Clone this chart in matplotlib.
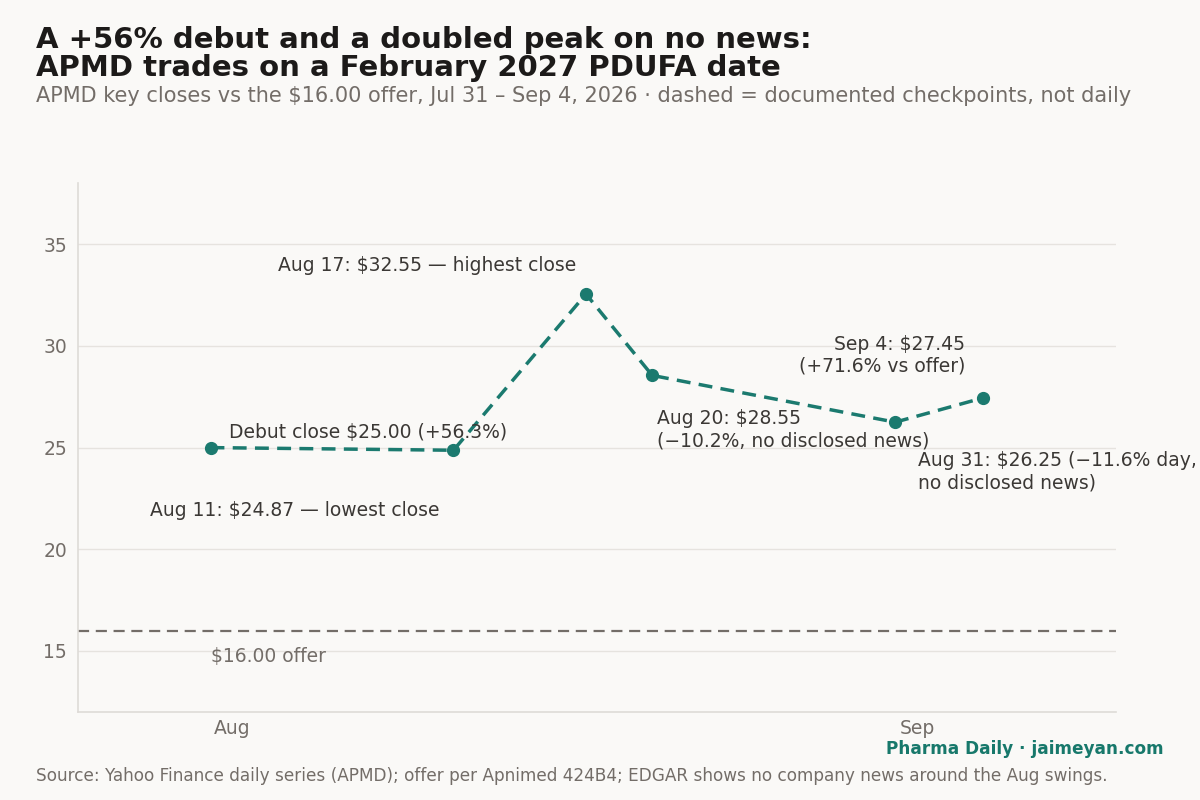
import datetime as dt
import matplotlib
matplotlib.use("Agg")
import matplotlib.pyplot as plt
import matplotlib.dates as mdates

plt.rcParams["font.family"] = ["DejaVu Sans"]

# key closes (documented checkpoints)
dates = [dt.date(2026, 7, 31), dt.date(2026, 8, 11), dt.date(2026, 8, 17),
         dt.date(2026, 8, 20), dt.date(2026, 8, 31), dt.date(2026, 9, 4)]
closes = [25.00, 24.87, 32.55, 28.55, 26.25, 27.45]
offer = 16.00

labels = [
    "Debut close $25.00 (+56.3%)",
    "Aug 11: $24.87 \u2014 lowest close",
    "Aug 17: $32.55 \u2014 highest close",
    "Aug 20: $28.55\n(\u221210.2%, no disclosed news)",
    "Aug 31: $26.25 (\u221211.6% day,\nno disclosed news)",
    "Sep 4: $27.45\n(+71.6% vs offer)",
]
# offset in pixels, ha, va
label_pos = [
    ((18, 15), "left", "center"),
    ((-14, -60), "right", "center"),
    ((-10, 29), "right", "center"),
    ((5, -34), "left", "top"),
    ((23, -29), "left", "top"),
    ((-18, 22), "right", "bottom"),
]

BG = "#faf9f7"
TEAL = "#1b7a6f"
INK = "#3b3835"
MUTED = "#736d68"

fig = plt.figure(figsize=(12, 8), dpi=100, facecolor=BG)
ax = fig.add_axes([0.065, 0.11, 0.865, 0.661], facecolor=BG)

ax.plot(dates, closes, color=TEAL, lw=2.5, ls=(0, (4, 2.4)), marker="o",
        ms=8.5, zorder=3)
ax.axhline(offer, color=MUTED, lw=1.6, ls=(0, (5, 3)), zorder=2)
ax.annotate("$16.00 offer", (dates[0], offer), xytext=(0, -26),
            textcoords="offset pixels", ha="left", va="center",
            fontsize=13.5, color=MUTED)

for d, c, lab, (off, ha, va) in zip(dates, closes, labels, label_pos):
    ax.annotate(lab, (d, c), xytext=off, textcoords="offset pixels",
                ha=ha, va=va, fontsize=13.5, color=INK, linespacing=1.2,
                annotation_clip=False)

ax.set_xlim(dt.date(2026, 7, 25), dt.date(2026, 9, 10))
ax.set_ylim(12, 38)
ax.set_yticks([15, 20, 25, 30, 35])
ax.xaxis.set_major_locator(mdates.MonthLocator())
ax.xaxis.set_major_formatter(mdates.DateFormatter("%b"))
ax.tick_params(length=0, labelsize=13.5, labelcolor=MUTED)
ax.tick_params(axis="x", pad=5)
ax.tick_params(axis="y", pad=8)
ax.grid(axis="y", color="#e6e3df", lw=1)
ax.set_axisbelow(True)
for s in ["top", "right"]:
    ax.spines[s].set_visible(False)
for s in ["left", "bottom"]:
    ax.spines[s].set_color("#dedbd7")
    ax.spines[s].set_linewidth(1.2)

fig.text(0.03, 0.932, "A +56% debut and a doubled peak on no news:\nAPMD trades on a February 2027 PDUFA date",
         fontsize=21, fontweight="bold", color="#1c1a19", ha="left", va="center",
         linespacing=1.0)
fig.text(0.03, 0.88, "APMD key closes vs the $16.00 offer, Jul 31 \u2013 Sep 4, 2026 \u00b7 dashed = documented checkpoints, not daily",
         fontsize=15, color=MUTED, ha="left", va="center")
fig.text(0.97, 0.064, "Pharma Daily \u00b7 jaimeyan.com", fontsize=12.2,
         fontweight="bold", color="#17786b", ha="right", va="center")
fig.text(0.03, 0.03, "Source: Yahoo Finance daily series (APMD); offer per Apnimed 424B4; EDGAR shows no company news around the Aug swings.",
         fontsize=12.2, color=MUTED, ha="left", va="center")

fig.savefig("out.png", dpi=100, facecolor=BG)
